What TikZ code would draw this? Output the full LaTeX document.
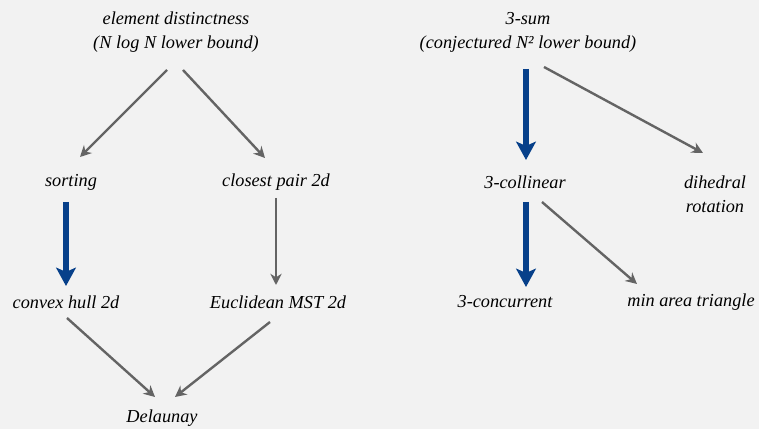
\documentclass[tikz,border=0pt]{standalone}
\usepackage{fontspec}
\setmainfont{Liberation Serif}
\usetikzlibrary{arrows.meta, calc}
\usepackage{xcolor}
\definecolor{rdbg}{HTML}{F2F2F2}
\definecolor{rdgray}{HTML}{646464}
\definecolor{rdblue}{HTML}{07408A}

\begin{document}
\begin{tikzpicture}[x=0.025cm, y=0.025cm,
    problem/.style={font=\fontsize{13}{17}\selectfont\itshape, align=center, inner sep=0pt},
    reduce/.style={draw=rdgray, line width=1.7pt, -{Stealth[length=8pt,width=8pt]}},
    linear/.style={draw=rdblue, line width=4pt, -{Stealth[length=13pt,width=14pt,inset=3pt]}}]
    \fill[rdbg] (0,0) rectangle (759,429);
    \useasboundingbox (0,0) rectangle (759,429);

    % lower bound for element distinctness
    \node[problem] (ed) at (176,397) {element distinctness\\(N log N lower bound)};
    \node[problem] (sorting) at (71,247) {sorting};
    \node[problem] (closest) at (276,247) {closest pair 2d};
    \node[problem] (hull) at (66,127) {convex hull 2d};
    \node[problem] (emst) at (278,127) {Euclidean MST 2d};
    \node[problem] (delaunay) at (162,11) {Delaunay};

    % 3-sum
    \node[problem] (threesum) at (528,397) {3-sum\\(conjectured N² lower bound)};
    \node[problem] (collinear) at (525,247) {3-collinear};
    \node[problem] (dihedral) at (715,235) {dihedral\\rotation};
    \node[problem] (concurrent) at (505,127) {3-concurrent};
    \node[problem] (minarea) at (691,127) {min area triangle};

    \draw[reduce] ($(ed)+(-9,-38)$) -- ($(sorting)+(9,25)$);
    \draw[reduce] ($(ed)+(7,-38)$) -- ($(closest)+(-11,24)$);
    \draw[linear] ($(sorting)+(-5,-20)$) -- ($(hull)+(0,16)$);
    \draw[reduce] ($(closest)+(0,-16)$) -- ($(emst)+(-2,17)$);
    \draw[reduce] ($(hull)+(1,-16)$) -- ($(delaunay)+(-7,21)$);
    \draw[reduce] ($(emst)+(-8,-20)$) -- ($(delaunay)+(13,21)$);

    \draw[linear] ($(threesum)+(-2,-37)$) -- ($(collinear)+(1,22)$);
    \draw[reduce] ($(threesum)+(16,-35)$) -- ($(dihedral)+(-12,41)$);
    \draw[linear] ($(collinear)+(1,-20)$) -- ($(concurrent)+(21,15)$);
    \draw[reduce] ($(collinear)+(17,-20)$) -- ($(minarea)+(-54,18)$);
\end{tikzpicture}
\end{document}
